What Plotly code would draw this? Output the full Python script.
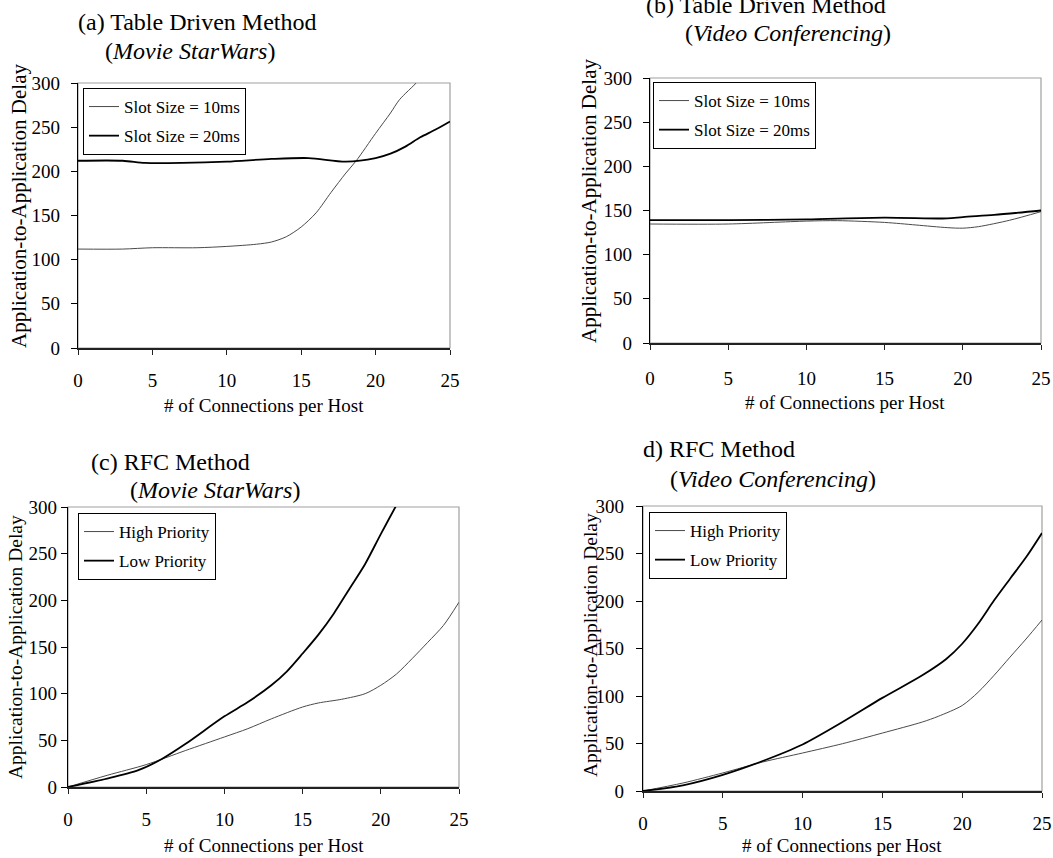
import plotly.graph_objects as go

# ---------------- data ----------------
# (a) Table Driven Method (Movie StarWars)
a_x_10 = [0, 3, 5, 8, 10, 12, 13, 14, 15, 16, 17, 18, 18.7, 20, 21, 21.6, 22.9, 25]
a_y_10 = [112, 112, 113.5, 113.5, 115, 117.5, 120, 126, 137, 153, 176, 198, 212, 243, 266, 281, 303, 345]
a_x_20 = [0, 3, 4.5, 7, 10, 13, 15.5, 18, 20, 21, 22, 23, 24, 25]
a_y_20 = [212, 212, 209.5, 209.5, 211, 214, 215, 211, 215, 220, 228, 238.5, 247, 256.5]

# (b) Table Driven Method (Video Conferencing)
b_x_10 = [0, 5, 10, 12, 15, 17, 19, 20, 21, 23, 25]
b_y_10 = [134.7, 134.7, 138, 138.5, 136.5, 133.6, 130.6, 130, 131.7, 139, 148.7]
b_x_20 = [0, 5, 10, 15, 19, 20, 22, 25]
b_y_20 = [139, 139, 140, 142, 141, 142.6, 145, 150]

# (c) RFC Method (Movie StarWars)
c_x_high = [0, 2.5, 5, 7.5, 10, 11.5, 13, 15, 16, 17.5, 19, 20, 21, 22, 23, 24, 25]
c_y_high = [0, 12.5, 24, 39, 53.6, 62.5, 73, 85.7, 90, 94, 100, 109, 121, 137.5, 155, 173, 198]
c_x_low = [0, 2.5, 4.5, 6, 7.5, 10, 11.5, 13, 14, 15, 16, 17, 18, 19, 20, 21, 21.5]
c_y_low = [0, 9, 18, 30, 46, 75.7, 91, 109, 124, 143, 163, 186, 212.5, 239, 271, 302, 318]

# (d) RFC Method (Video Conferencing)
d_x_high = [0, 2.5, 5, 7.5, 10, 12.5, 15, 17.5, 18.5, 20, 21, 22, 23, 24, 25]
d_y_high = [0, 8.4, 19, 30.5, 40, 49.8, 61, 72.6, 78.6, 90, 104, 121.8, 141, 160, 180]
d_x_low = [0, 2.5, 5, 7.5, 10, 12.5, 15, 17.5, 19, 20, 21, 22, 23, 24, 25]
d_y_low = [0, 6, 17, 31.6, 49, 72.6, 98, 121.8, 139, 155, 176, 200.7, 223.5, 246, 271.6]

names_table = ["Slot Size = 10ms", "Slot Size = 20ms"]
names_rfc = ["High Priority", "Low Priority"]
titles = ["(a) Table Driven Method", "(b) Table Driven Method", "(c) RFC Method", "d) RFC Method"]
subtitles = ["Movie StarWars", "Video Conferencing", "Movie StarWars", "Video Conferencing"]
x_ticks = [0, 5, 10, 15, 20, 25]
y_ticks = [0, 50, 100, 150, 200, 250, 300]
x_title = "# of Connections per Host"
y_title = "Application-to-Application Delay"

# ---------------- layout helpers ----------------
W, H = 1053, 858
FONT = "Liberation Serif, Times New Roman, serif"

def px_x(p):
    return p / W

def px_y(p):
    return 1 - p / H

# panel plot areas in pixels: (left, right, top, bottom)
panels = [
    (78, 450, 83, 348),
    (650, 1041, 78, 343),
    (68, 459, 507, 787),
    (643, 1042, 506, 791),
]
legend_pos = [(83, 88), (653, 82), (78, 513), (649, 512)]
title_pos = [(197, 22), (766, 5), (170, 462), (719, 449)]
subtitle_pos = [(190, 51), (788, 33), (215, 490), (773, 479)]
xtitle_pos = [(264, 405), (845, 402), (264, 845), (842, 845)]
ytitle_pos = [(19, 206), (589, 201), (15, 647), (590, 645)]
ytitle_size = [21, 21, 19.5, 19.5]
x_standoff = [9, 12, 9, 9]
y_standoff = [7, 7, 0, 8]

series = [
    (a_x_10, a_y_10, a_x_20, a_y_20, names_table),
    (b_x_10, b_y_10, b_x_20, b_y_20, names_table),
    (c_x_high, c_y_high, c_x_low, c_y_low, names_rfc),
    (d_x_high, d_y_high, d_x_low, d_y_low, names_rfc),
]

fig = go.Figure()
layout = dict(
    width=W, height=H,
    margin=dict(l=0, r=0, t=0, b=0, pad=0, autoexpand=False),
    paper_bgcolor="white", plot_bgcolor="white",
    font=dict(family=FONT, color="black", size=19),
    showlegend=True,
    annotations=[], shapes=[],
)

for i, (x1, y1, x2, y2, nm) in enumerate(series):
    k = i + 1
    sx = "" if k == 1 else str(k)
    xa, ya = "x" + sx, "y" + sx
    leg = "legend" + sx
    l, r, t, b = panels[i]
    fig.add_trace(go.Scatter(x=x1, y=y1, mode="lines", name=nm[0], xaxis=xa, yaxis=ya,
                             line=dict(color="#4a4a4a", width=1, shape="spline", smoothing=0.8),
                             legend=leg, legendgroup=f"g{k}a"))
    fig.add_trace(go.Scatter(x=x2, y=y2, mode="lines", name=nm[1], xaxis=xa, yaxis=ya,
                             line=dict(color="black", width=1.8, shape="spline", smoothing=0.8),
                             legend=leg, legendgroup=f"g{k}b"))
    layout["xaxis" + sx] = dict(
        domain=[px_x(l), px_x(r)], anchor=ya, range=[0, 25], tickvals=x_ticks,
        showgrid=False, zeroline=False, showline=True, linecolor="#222", linewidth=1.5,
        ticks="outside", ticklen=5, tickwidth=1.2, tickcolor="#222", automargin=False,
        ticklabelstandoff=x_standoff[i], tickfont=dict(size=19, family=FONT),
    )
    layout["yaxis" + sx] = dict(
        domain=[px_y(b), px_y(t)], anchor=xa, range=[0, 300], tickvals=y_ticks,
        showgrid=False, zeroline=False, showline=True, linecolor="black", linewidth=1.3,
        ticks="outside", ticklen=6, tickwidth=1.2, tickcolor="black", automargin=False,
        ticklabelstandoff=y_standoff[i], tickfont=dict(size=19, family=FONT),
    )
    # overlay axis for the inner half of the crossing x ticks
    ox = "xaxis" + str(k + 4)
    layout[ox] = dict(
        domain=[px_x(l), px_x(r)], anchor=ya, overlaying=xa, range=[0, 25], tickvals=x_ticks,
        showgrid=False, zeroline=False, showline=False, showticklabels=False, automargin=False,
        ticks="inside", ticklen=5, tickwidth=1.2, tickcolor="#222",
    )
    # gray plot frame
    layout["shapes"].append(dict(type="rect", xref=xa + " domain", yref=ya + " domain",
                                 x0=0, x1=1, y0=0, y1=1, line=dict(color="#a0a0a0", width=1.2),
                                 layer="below"))
    lx, ly = legend_pos[i]
    layout[leg] = dict(
        x=px_x(lx), y=px_y(ly), xanchor="left", yanchor="top", xref="paper", yref="paper",
        bordercolor="black", borderwidth=1, bgcolor="white",
        font=dict(family=FONT, size=17), itemwidth=30, tracegroupgap=4,
        traceorder="grouped",
    )
    tx, ty = title_pos[i]
    layout["annotations"].append(dict(text=titles[i], x=px_x(tx), y=px_y(ty), xref="paper", yref="paper",
                                      showarrow=False, xanchor="center", yanchor="middle",
                                      font=dict(size=24, family=FONT)))
    stx, sty = subtitle_pos[i]
    layout["annotations"].append(dict(text="(<i>" + subtitles[i] + "</i>)", x=px_x(stx), y=px_y(sty),
                                      xref="paper", yref="paper", showarrow=False,
                                      xanchor="center", yanchor="middle",
                                      font=dict(size=24, family=FONT)))
    xtx, xty = xtitle_pos[i]
    layout["annotations"].append(dict(text=x_title, x=px_x(xtx), y=px_y(xty), xref="paper", yref="paper",
                                      showarrow=False, xanchor="center", yanchor="middle",
                                      font=dict(size=19, family=FONT)))
    ytx, yty = ytitle_pos[i]
    layout["annotations"].append(dict(text=y_title, x=px_x(ytx), y=px_y(yty), xref="paper", yref="paper",
                                      showarrow=False, xanchor="center", yanchor="middle", textangle=-90,
                                      font=dict(size=ytitle_size[i], family=FONT)))

fig.update_layout(**layout)
fig.write_html("out.html", config={"displayModeBar": False},
               post_script="document.body.style.margin='0';")
